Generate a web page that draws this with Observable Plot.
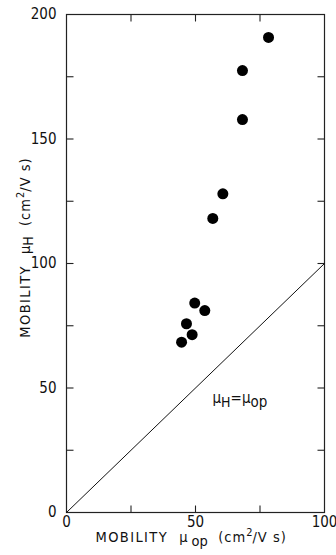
<!DOCTYPE html>
<html><head><meta charset="utf-8">
<script src="https://cdn.jsdelivr.net/npm/d3@7"></script>
<script src="https://cdn.jsdelivr.net/npm/@observablehq/plot@0.6"></script>
<style>body{margin:0;background:#fff}svg{display:block}</style>
</head><body><div id="chart"></div>
<script>
// Data
const muOp = [78.3, 68.2, 68.2, 60.6, 56.7, 49.7, 53.6, 46.5, 48.7, 44.6];
const muH  = [190.8, 177.5, 157.8, 128, 118.1, 84.1, 81.1, 75.8, 71.4, 68.4];
const diagonal = [0, 100];
const xTickLabels = [0, 50, 100];
const yTickLabels = [0, 50, 100, 150, 200];
const xMinorTicks = [25, 50, 75];
const yMinorTicks = [25, 50, 75, 100, 125, 150, 175];
const lineLabel = "μH=μop";
const xTitle = "MOBILITY μop (cm2/Vs)";
const yTitle = "MOBILITY μH (cm2/Vs)";

const points = muOp.map((x, i) => ({x, y: muH[i]}));

const W = 336, H = 555;
const mL = 66, mR = 12, mT = 14, mB = 43;
const fw = W - mL - mR, fh = H - mT - mB;
const xDom = [0, 100], yDom = [0, 200];
const tl = 7;
const tx = tl * (xDom[1] - xDom[0]) / fw;   // tick length in x units
const ty = tl * (yDom[1] - yDom[0]) / fh;   // tick length in y units

const svg = Plot.plot({
  width: W, height: H,
  marginLeft: mL, marginRight: mR, marginTop: mT, marginBottom: mB,
  style: {fontFamily: "'DejaVu Sans Condensed', sans-serif", fontSize: "15px", color: "#111", background: "#fff"},
  x: {domain: xDom},
  y: {domain: yDom},
  marks: [
    Plot.frame({stroke: "#222", strokeWidth: 1.2}),
    Plot.axisX(xTickLabels, {tickSize: 0, tickPadding: 4, label: null, fontSize: 15}),
    Plot.axisY(yTickLabels, {tickSize: 0, tickPadding: 10, label: null, fontSize: 15}),
    Plot.link(yMinorTicks, {x1: xDom[0], x2: xDom[0] + tx, y1: d => d, y2: d => d, stroke: "#222", strokeWidth: 1.1}),
    Plot.link(yMinorTicks, {x1: xDom[1], x2: xDom[1] - tx, y1: d => d, y2: d => d, stroke: "#222", strokeWidth: 1.1}),
    Plot.link(xMinorTicks, {y1: yDom[0], y2: yDom[0] + ty, x1: d => d, x2: d => d, stroke: "#222", strokeWidth: 1.1}),
    Plot.link(xMinorTicks, {y1: yDom[1], y2: yDom[1] - ty, x1: d => d, x2: d => d, stroke: "#222", strokeWidth: 1.1}),
    Plot.line(diagonal, {x: d => d, y: d => d, stroke: "#111", strokeWidth: 1}),
    Plot.dot(points, {x: "x", y: "y", r: 5.5, fill: "#000", stroke: null}),
    Plot.text([lineLabel], {x: () => 56.6, y: () => 46, text: d => d, textAnchor: "start", fontSize: 15, className: "lbl-line"}),
    Plot.text([xTitle], {frameAnchor: "bottom-left", dx: 29, dy: 29, text: d => d, textAnchor: "start", fontSize: 14.5, className: "lbl-x"}),
    Plot.text([yTitle], {frameAnchor: "left", dx: -41, dy: -16, rotate: -90, text: d => d, textAnchor: "middle", fontSize: 14.5, className: "lbl-y"})
  ]
});

function rich(sel, parts) {
  const t = d3.select(svg).select(sel).select("text");
  t.text(null);
  let shift = 0;
  for (const p of parts) {
    const sp = t.append("tspan").text(p.t);
    const target = p.s || 0;
    if (target !== shift) { sp.attr("dy", target - shift); shift = target; }
    if (p.f) sp.attr("font-size", p.f);
    if (p.ls) sp.attr("letter-spacing", p.ls);
  }
}
rich(".lbl-line", [{t: "μ"}, {t: "H", s: 4, f: 14}, {t: "=", s: 0}, {t: "μ"}, {t: "op", s: 4}]);
rich(".lbl-x", [{t: "MOBILITY  ", ls: 1.4}, {t: "μ "}, {t: "op", s: 4}, {t: "  (cm", s: 0, ls: 1}, {t: "2", s: -6, f: 11}, {t: "/V s)", s: 0, ls: 1}]);
rich(".lbl-y", [{t: "MOBILITY  ", ls: 1.4}, {t: "μ"}, {t: "H", s: 3, f: 14}, {t: "  (cm", s: 0, ls: 1}, {t: "2", s: -6, f: 11}, {t: "/V s)", s: 0, ls: 1}]);

document.getElementById("chart").append(svg);
</script>
</body></html>
